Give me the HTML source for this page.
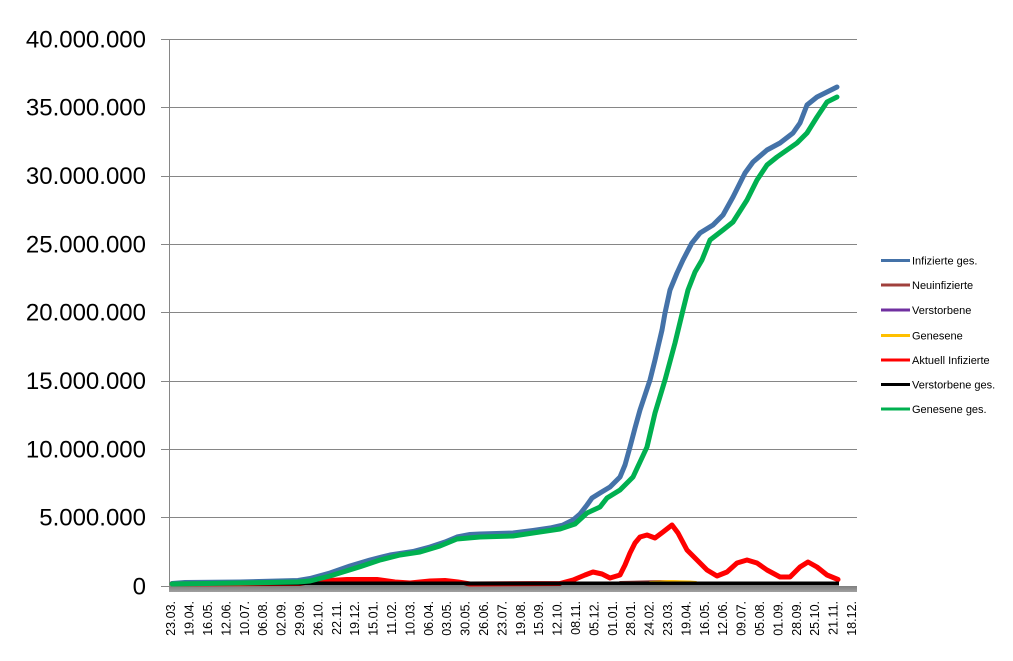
<!DOCTYPE html>
<html><head><meta charset="utf-8">
<style>
html,body{margin:0;padding:0;background:#fff;}
svg{display:block;}
</style></head>
<body>
<svg width="1013" height="661" viewBox="0 0 1013 661" xmlns="http://www.w3.org/2000/svg" font-family="Liberation Sans, sans-serif">
<rect width="1013" height="661" fill="#fff"/>
<!-- gridlines -->
<g stroke="#868686" stroke-width="1">
<line x1="161" y1="39.5" x2="857" y2="39.5"/>
<line x1="161" y1="107.5" x2="857" y2="107.5"/>
<line x1="161" y1="176.5" x2="857" y2="176.5"/>
<line x1="161" y1="244.5" x2="857" y2="244.5"/>
<line x1="161" y1="312.5" x2="857" y2="312.5"/>
<line x1="161" y1="381.5" x2="857" y2="381.5"/>
<line x1="161" y1="449.5" x2="857" y2="449.5"/>
<line x1="161" y1="517.5" x2="857" y2="517.5"/>
<line x1="161" y1="586.5" x2="170" y2="586.5"/>
<line x1="169.5" y1="39" x2="169.5" y2="587"/>
</g>
<!-- floor band -->
<defs><linearGradient id="fl" x1="0" y1="0" x2="0" y2="1"><stop offset="0" stop-color="#7f7f7f"/><stop offset="1" stop-color="#a0a0a0"/></linearGradient></defs>
<rect x="169" y="586" width="688" height="6" fill="url(#fl)"/>
<!-- y labels -->
<g font-size="24" fill="#000" text-anchor="end">
<text x="146" y="47.5">40.000.000</text>
<text x="146" y="115.5">35.000.000</text>
<text x="146" y="184">30.000.000</text>
<text x="146" y="252.5">25.000.000</text>
<text x="146" y="320.5">20.000.000</text>
<text x="146" y="389">15.000.000</text>
<text x="146" y="457.5">10.000.000</text>
<text x="146" y="525.5">5.000.000</text>
<text x="146" y="594.5">0</text>
</g>
<!-- x labels -->
<g font-size="12.5" fill="#000" text-anchor="end">
<text transform="translate(175.2,601) rotate(-90)">23.03.</text>
<text transform="translate(193.6,601) rotate(-90)">19.04.</text>
<text transform="translate(212.0,601) rotate(-90)">16.05.</text>
<text transform="translate(230.4,601) rotate(-90)">12.06.</text>
<text transform="translate(248.8,601) rotate(-90)">10.07.</text>
<text transform="translate(267.2,601) rotate(-90)">06.08.</text>
<text transform="translate(285.6,601) rotate(-90)">02.09.</text>
<text transform="translate(304.0,601) rotate(-90)">29.09.</text>
<text transform="translate(322.4,601) rotate(-90)">26.10.</text>
<text transform="translate(340.8,601) rotate(-90)">22.11.</text>
<text transform="translate(359.2,601) rotate(-90)">19.12.</text>
<text transform="translate(377.6,601) rotate(-90)">15.01.</text>
<text transform="translate(396.0,601) rotate(-90)">11.02.</text>
<text transform="translate(414.4,601) rotate(-90)">10.03.</text>
<text transform="translate(432.8,601) rotate(-90)">06.04.</text>
<text transform="translate(451.2,601) rotate(-90)">03.05.</text>
<text transform="translate(469.6,601) rotate(-90)">30.05.</text>
<text transform="translate(488.0,601) rotate(-90)">26.06.</text>
<text transform="translate(506.4,601) rotate(-90)">23.07.</text>
<text transform="translate(524.8,601) rotate(-90)">19.08.</text>
<text transform="translate(543.2,601) rotate(-90)">15.09.</text>
<text transform="translate(561.6,601) rotate(-90)">12.10.</text>
<text transform="translate(580.0,601) rotate(-90)">08.11.</text>
<text transform="translate(598.4,601) rotate(-90)">05.12.</text>
<text transform="translate(616.8,601) rotate(-90)">01.01.</text>
<text transform="translate(635.2,601) rotate(-90)">28.01.</text>
<text transform="translate(653.6,601) rotate(-90)">24.02.</text>
<text transform="translate(672.0,601) rotate(-90)">23.03.</text>
<text transform="translate(690.4,601) rotate(-90)">19.04.</text>
<text transform="translate(708.8,601) rotate(-90)">16.05.</text>
<text transform="translate(727.2,601) rotate(-90)">12.06.</text>
<text transform="translate(745.6,601) rotate(-90)">09.07.</text>
<text transform="translate(764.0,601) rotate(-90)">05.08.</text>
<text transform="translate(782.4,601) rotate(-90)">01.09.</text>
<text transform="translate(800.8,601) rotate(-90)">28.09.</text>
<text transform="translate(819.2,601) rotate(-90)">25.10.</text>
<text transform="translate(837.6,601) rotate(-90)">21.11.</text>
<text transform="translate(856.0,601) rotate(-90)">18.12.</text>
</g>
<!-- series -->
<g fill="none" stroke-linejoin="round" stroke-linecap="round">
<polyline stroke="#4472a8" stroke-width="5" points="172,583.5 185,582.5 240,582 298,580.5 310,578.5 330,573 350,566 370,560 390,555 413,551.5 430,547 445,542 457,537 470,534.5 480,534 513,533 533,530.5 550,528 563,525 573,520 580,514 587,505 592,498 600,493 610,487 620,477 625,465 630,447 635,428 640,410 645,395 650,380 655,360 658,347 662,330 665,313 670,290 677,273 683,260 691.7,243.3 700,233 713,225 723,215 733,197 745,173 753,162 767,150 780,143 793,133 800,123 807,105 817,97 827,92 837,87"/>
<polyline stroke="#a0403c" stroke-width="2" points="620,582 640,581.5 660,581 680,581.5"/>
<polyline stroke="#ffc000" stroke-width="2" points="650,582 670,581 690,581.5 696,582"/>
<polyline stroke="#ff0000" stroke-width="5" points="172,584 300,583.5 315,582 330,580.5 347,579.5 377,579.5 395,582 410,583 430,581 445,580.5 458,582 470,584 560,583.5 573,580 585,575 593,572 602,574 610,578 620,575 625,565 630,553 635,543 640,537 647,535 655,538 663,532 672,525 678,533 687,550 697,560 707,570 717,576 727,572 737,563 747,560 757,563 767,570 780,577 790,577 800,567 808,562 817,567 827,575 838,579.5"/>
<line x1="172" y1="583.5" x2="839" y2="583.5" stroke="#000" stroke-width="4" stroke-linecap="butt"/>
<polyline stroke="#00b050" stroke-width="5" points="172,584 240,583 298,582 310,581 330,576 360,566.7 380,560 400,555 420,552 440,546 457,539 480,537 513,536 533,533 560,529 575,524 587,513 600,507 607,498 620,490 633,477 640,462 647,447 651,430 655,413 665,380 675,343 683,310 688,290 695,272 702,260 710,240 723,230 733,222 747,200 757,180 767,165 777,157 797,143 807,133 817,117 827,102 837,97"/>
</g>
<!-- legend -->
<g stroke-width="3">
<line x1="881" y1="260.5" x2="910" y2="260.5" stroke="#4472a8"/>
<line x1="881" y1="285" x2="910" y2="285" stroke="#a0403c"/>
<line x1="881" y1="310" x2="910" y2="310" stroke="#7030a0"/>
<line x1="881" y1="335.5" x2="910" y2="335.5" stroke="#ffc000"/>
<line x1="881" y1="360" x2="910" y2="360" stroke="#ff0000"/>
<line x1="881" y1="384.5" x2="910" y2="384.5" stroke="#000"/>
<line x1="881" y1="409" x2="910" y2="409" stroke="#00b050"/>
</g>
<g font-size="11" fill="#000">
<text x="912" y="264.5">Infizierte ges.</text>
<text x="912" y="289">Neuinfizierte</text>
<text x="912" y="314">Verstorbene</text>
<text x="912" y="339.5">Genesene</text>
<text x="912" y="364">Aktuell Infizierte</text>
<text x="912" y="388.5">Verstorbene ges.</text>
<text x="912" y="413">Genesene ges.</text>
</g>
</svg>
</body></html>
